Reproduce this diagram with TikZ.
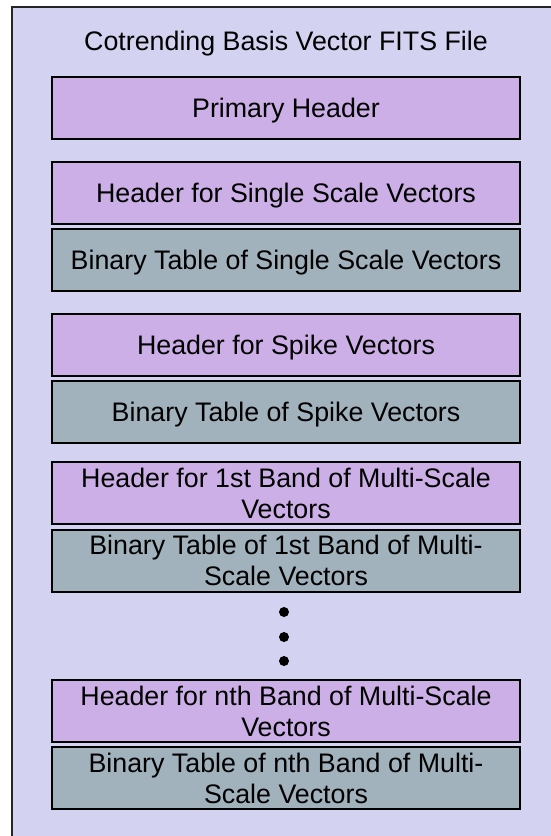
\documentclass[tikz,border=0pt]{standalone}
\usepackage{fontspec}
\setmainfont{Liberation Sans}
\definecolor{bgl}{RGB}{211,211,241}
\definecolor{hdr}{RGB}{204,175,230}
\definecolor{tbl}{RGB}{161,178,188}
\begin{document}
\begin{tikzpicture}[x=1pt,y=-1pt,
  txt/.style={font=\fontsize{26.8}{31}\selectfont,text depth=0pt},
  box/.style={txt,draw=black,line width=2pt,minimum width=468pt,minimum height=62pt,inner sep=0pt,align=center},
  hbox/.style={box,fill=hdr},
  tbox/.style={box,fill=tbl},
  dot/.style={circle,fill=black,inner sep=0pt,minimum size=10pt}]
\useasboundingbox (0,0) rectangle (551,836);
\begin{scope}
\clip (0,0) rectangle (551,836);
\draw[fill=bgl,draw=black!85,line width=2.5pt] (12,7) rectangle (570,860);
\end{scope}
\node[txt] (title) at (286,41) {Cotrending Basis Vector FITS File};
\node[hbox] (ph) at (286,108) {Primary Header};
\node[hbox] (hs) at (286,192.5) {Header for Single Scale Vectors};
\node[tbox] (bs) at (286,259.5) {Binary Table of Single Scale Vectors};
\node[hbox] (hk) at (286,344.5) {Header for Spike Vectors};
\node[tbox] (bk) at (286,412) {Binary Table of Spike Vectors};
\node[hbox] (h1) at (286,493) {Header for 1st Band of Multi-Scale\\Vectors};
\node[tbox] (b1) at (286,560.5) {Binary Table of 1st Band of Multi-\\Scale Vectors};
\node[dot] (d1) at (284,612) {};
\node[dot] (d2) at (284,637) {};
\node[dot] (d3) at (284,661) {};
\node[hbox] (hn) at (286,711) {Header for nth Band of Multi-Scale\\Vectors};
\node[tbox] (bn) at (286,778) {Binary Table of nth Band of Multi-\\Scale Vectors};
\end{tikzpicture}
\end{document}
